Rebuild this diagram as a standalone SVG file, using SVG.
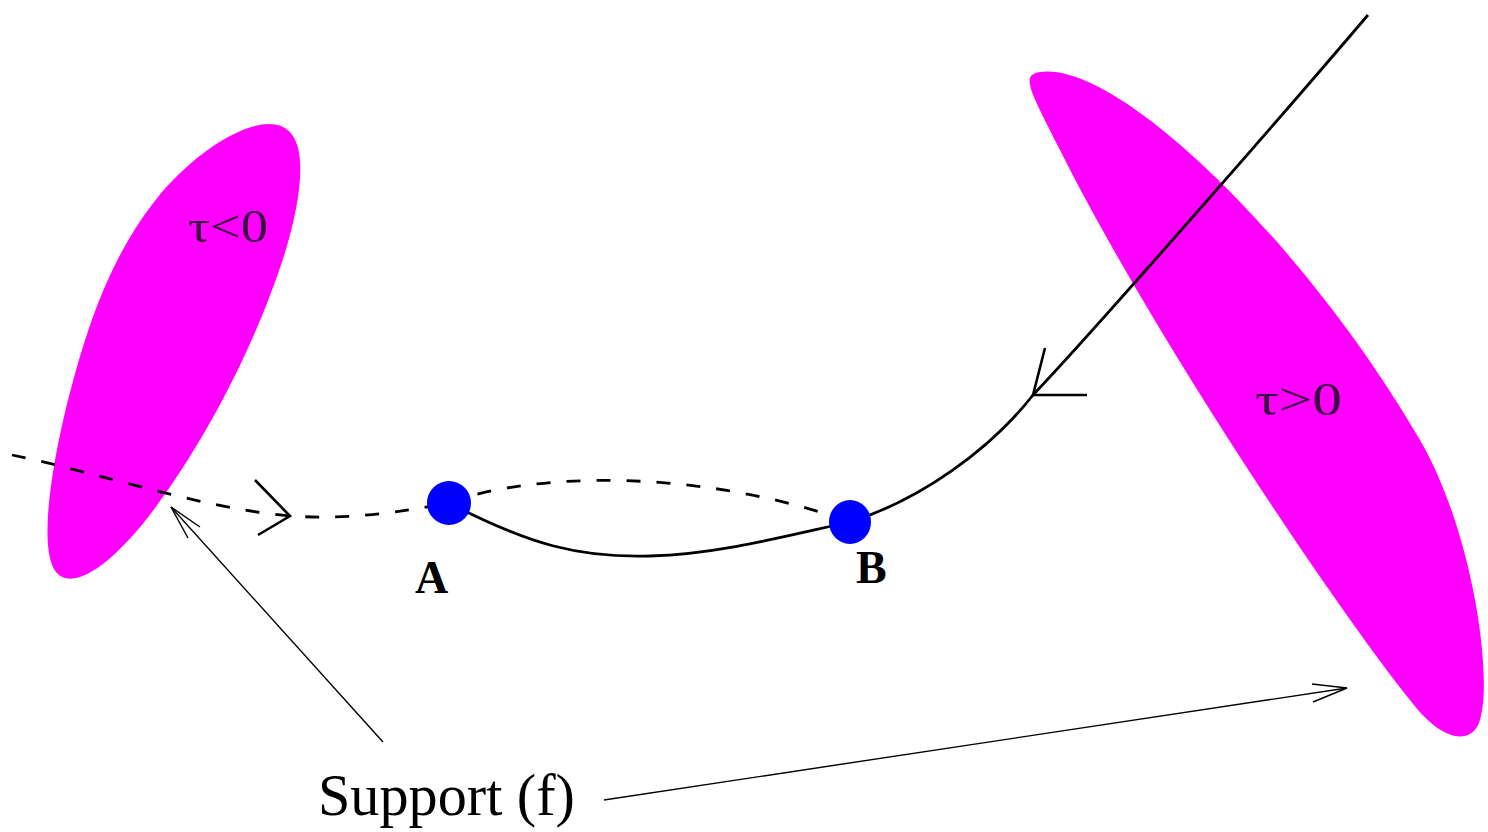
<svg xmlns="http://www.w3.org/2000/svg" width="1488" height="832" viewBox="0 0 1488 832">
<style>
.blob{fill:#ff00ff}
.tau{font-family:"Liberation Serif",serif;font-size:46px;fill:#3a0a40}
.pt{fill:#0000ff}
.lbl{font-family:"Liberation Serif",serif;font-weight:bold;font-size:46px;fill:#000}
.sup{font-family:"Liberation Serif",serif;font-size:60px;fill:#000}
.curve{fill:none;stroke:#000;stroke-width:2.8}
.dash{fill:none;stroke:#000;stroke-width:2.8;stroke-dasharray:14 16}
.thin{fill:none;stroke:#000;stroke-width:1.4}
.head{fill:none;stroke:#000;stroke-width:2.6}
</style>
<rect width="1488" height="832" fill="#fff"/>
<g id="region-neg">
<path class="blob" d="M283,127 C310,140 302,200 282,262 C252,352 205,440 155,508 C112,566 72,592 56,572 C40,552 48,480 68,400 C88,322 112,252 162,192 C202,146 256,114 283,127 Z"/>
<text class="tau" x="188" y="242" textLength="80" lengthAdjust="spacingAndGlyphs">τ&lt;0</text>
</g>
<g id="region-pos">
<path class="blob" d="M1040,72 C1120,60 1310,250 1420,440 C1475,535 1495,690 1478,725 C1468,745 1440,740 1410,700 C1330,600 1150,330 1060,150 C1030,90 1020,75 1040,72 Z"/>
<text class="tau" x="1255" y="415" textLength="87" lengthAdjust="spacingAndGlyphs">τ&gt;0</text>
</g>
<g id="connectors">
<path class="dash" d="M12,455 C100,473 200,508 290,516 C350,520 400,512 449,503"/>
<polyline class="head" points="255,480 290,516 258,535"/>
<path class="dash" d="M449,503 C530,472 700,468 850,522"/>
<path class="curve" d="M449,503 C530,545 580,558 650,556 C720,554 790,535 850,522"/>
<path class="curve" d="M850,522 C920,500 990,450 1033,395 C1090,335 1270,130 1368,15"/>
<polyline class="head" points="1045,348 1033,395 1087,395"/>
<line class="thin" x1="383" y1="742" x2="171" y2="507"/>
<polyline class="thin" points="188,538 171,507 200,527"/>
<line class="thin" x1="604" y1="800" x2="1347" y2="688"/>
<polyline class="thin" points="1312,684 1347,688 1313,702"/>
</g>
<g id="point-A">
<ellipse class="pt" cx="449" cy="503" rx="22" ry="22"/>
<text class="lbl" x="415" y="593">A</text>
</g>
<g id="point-B">
<ellipse class="pt" cx="850" cy="522" rx="21" ry="22"/>
<text class="lbl" x="856" y="583">B</text>
</g>
<g id="label-support">
<text class="sup" x="318" y="815" textLength="257" lengthAdjust="spacingAndGlyphs">Support (f)</text>
</g>
</svg>
